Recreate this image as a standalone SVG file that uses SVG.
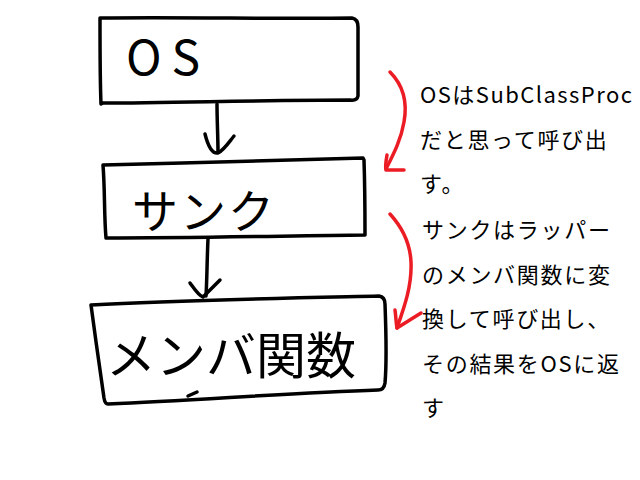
<svg xmlns="http://www.w3.org/2000/svg" width="640" height="480" viewBox="0 0 640 480">
<style>
.box{fill:none;stroke:#000;stroke-width:3.5;stroke-linejoin:round;stroke-linecap:round}
.hand{font-family:"Noto Sans CJK JP","Noto Sans",sans-serif;fill:#000;font-weight:400}
.red{fill:none;stroke:#ec1c24;stroke-width:3.5;stroke-linecap:round;stroke-linejoin:round}
.blk{fill:none;stroke:#000;stroke-width:3.5;stroke-linecap:round;stroke-linejoin:round}
.note{font-family:"Noto Sans CJK JP","Noto Sans",sans-serif;font-size:22px;fill:#000}
</style>
<rect width="640" height="480" fill="#fff"/>
<g id="node-os">
<path class="box" d="M100,18 C180,17 280,19 352,18 Q358,19 358,27 L358,96 Q357,101 350,100 C260,100 170,103 103,103 L101,104 C100,80 100,45 100,18 Z"/>
<text class="hand" x="126" y="75" font-size="48" letter-spacing="10">OS</text>
</g>
<g id="node-thunk">
<path class="box" d="M103,165 C190,163 280,160 363,158 L364,160 C365,190 365,215 365,235 C280,236 190,238 106,238 C104,215 105,190 103,165 Z"/>
<text class="hand" x="132" y="228" font-size="46" letter-spacing="2">サンク</text>
</g>
<g id="node-member">
<path class="box" d="M91,305 C180,300 290,298 379,296 Q385,297 385,304 C386,330 387,360 385,383 Q384,390 378,390 C290,393 200,400 108,404 Q105,404 104,398 C100,370 95,335 91,305 Z"/>
<path class="box" d="M188,396 L197,392"/>
<text class="hand" x="106" y="374" font-size="50" letter-spacing="0">メンバ関数</text>
</g>
<g id="connectors">
<path class="blk" d="M217,104 C217,120 218,138 218,152"/>
<path class="blk" d="M205,134 C208,146 212,154 218,153 C224,150 229,142 234,136"/>
<path class="blk" d="M208,239 C207,260 207,280 206,296"/>
<path class="blk" d="M190,283 C195,290 199,296 203,297 C208,292 214,286 220,280"/>
<path class="red" d="M390,72 C402,84 408,100 404,122 C401,140 393,155 386,169"/>
<path class="red" d="M387,155 C386,161 385,166 386,170 C392,170 398,170 404,170"/>
<path class="red" d="M390,214 C400,225 410,240 411,262 C412,285 405,305 397,328"/>
<path class="red" d="M395,310 C396,317 396,323 397,328 C405,323 413,318 421,313"/>
</g>
<g id="notes">
<text class="note" x="420" y="103" textLength="212" lengthAdjust="spacing">OSはSubClassProc</text>
<text class="note" x="420" y="148" letter-spacing="1.7">だと思って呼び出</text>
<text class="note" x="420" y="192" letter-spacing="1.7">す。</text>
<text class="note" x="422" y="238" letter-spacing="1.7">サンクはラッパー</text>
<text class="note" x="422" y="283" letter-spacing="1.7">のメンバ関数に変</text>
<text class="note" x="422" y="327" letter-spacing="1.7">換して呼び出し、</text>
<text class="note" x="422" y="372" letter-spacing="1.7">その結果をOSに返</text>
<text class="note" x="422" y="416">す</text>
</g>
</svg>
